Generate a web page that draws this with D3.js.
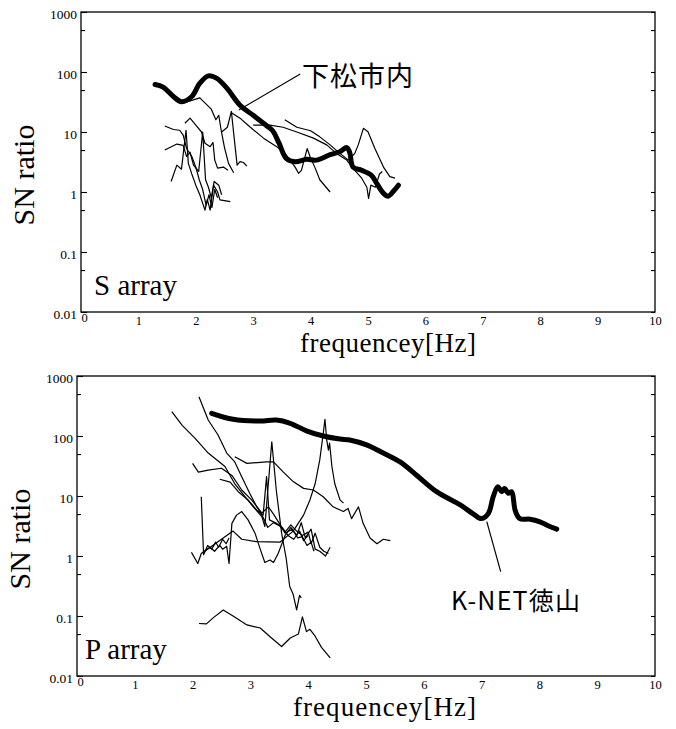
<!DOCTYPE html>
<html>
<head>
<meta charset="utf-8">
<script src="https://cdn.jsdelivr.net/npm/d3@7"></script>
<style>
body { margin: 0; background: #fff; }
svg text { font-family: "Liberation Serif", "Times New Roman", serif; fill: #000; }
svg text.jp { font-family: "Noto Sans CJK JP", sans-serif; }
</style>
</head>
<body>
<script>
"use strict";

// tick labels
var yTicks = [0.01, 0.1, 1, 10, 100, 1000];
var yTickLabels = ["0.01", "0.1", "1", "10", "100", "1000"];
var yMinor = [0.05, 0.5, 5, 50, 500];
var xTicks = [0, 1, 2, 3, 4, 5, 6, 7, 8, 9, 10];

// S array: [frequency Hz, SN ratio]
var sThick = [[1.29,62],[1.43,56],[1.61,39],[1.75,32],[1.93,39],[2.07,65],[2.22,86],[2.36,79],[2.54,54],
  [2.77,28],[3.0,19],[3.24,12.6],[3.34,10.5],[3.45,6.5],[3.58,3.6],[3.73,3.2],[3.93,3.5],[4.1,3.4],
  [4.34,4.2],[4.51,4.7],[4.63,5.5],[4.68,4.6],[4.74,2.6],[4.89,2.3],[5.06,1.9],[5.15,1.4],[5.27,0.95],
  [5.35,0.85],[5.45,1.05],[5.53,1.3]];
var sThin1 = [[1.76,30],[2.07,37],[2.27,24],[2.35,16],[2.4,19],[2.44,11],[2.5,5.5],[2.57,3.0],[2.66,2.1]];
var sThin2 = [[2.45,10],[2.55,12],[2.62,22],[2.66,9.5],[2.72,2.8],[2.77,3.2],[2.83,3.1],[2.89,2.7]];
var sThin3 = [[2.62,21],[2.77,17],[2.94,12.2],[3.18,7.9],[3.41,5.7],[3.58,4.1],[3.73,2.6],[3.79,2.05],
  [3.84,2.3],[3.94,5.3],[3.99,3.9],[4.08,2.5],[4.16,1.6],[4.34,1.0]];
var sThin4 = [[3.0,13],[3.29,13],[3.52,12],[3.76,10],[4.05,7.9],[4.28,6.1],[4.45,4.4],[4.63,3.4],[4.77,2.3],
  [4.89,1.7],[4.98,1.2],[5.01,0.78],[5.05,1.3],[5.13,1.2],[5.2,2.0],[5.25,2.2]];
var sThin5 = [[3.55,16],[3.76,12],[4.0,10.5],[4.16,8.3],[4.34,6.1],[4.51,4.4],[4.66,3.4],[4.77,4.4],[4.83,6.1],
  [4.92,11.5],[5.0,10.1],[5.12,5.3],[5.27,2.6],[5.38,1.8],[5.47,1.7]];
var sThin6 = [[1.46,12.6],[1.61,11],[1.72,10.7],[1.78,8.9],[1.84,5.3],[1.93,3.9],[2.0,2.6],[2.06,1.6],
  [2.12,1.1],[2.18,0.6],[2.23,0.9],[2.28,0.55],[2.33,1.1],[2.38,0.8]];
var sThin7 = [[1.46,5.0],[1.67,6.3],[1.78,6.0],[1.84,3.9],[1.9,4.6],[1.96,2.8],[2.05,2.2],[2.12,10],
  [2.17,1.6],[2.22,1.2],[2.27,0.8],[2.32,1.5],[2.4,1.3],[2.45,0.9]];
var sThin8 = [[1.81,14],[1.9,17],[2.0,13],[2.1,10],[2.16,6.5],[2.25,5.7],[2.3,6.7],[2.33,3.4],[2.38,2.5],
  [2.48,2.6],[2.56,2.3]];
var sThin9 = [[1.57,1.5],[1.67,2.8],[1.75,2.4],[1.83,10.7],[1.87,3.0],[1.93,2.0],[2.0,1.3],[2.07,0.9],
  [2.1,0.74],[2.16,0.5],[2.2,0.75],[2.25,0.5],[2.31,1.3],[2.38,1.0],[2.42,0.74],[2.5,0.72],[2.6,0.69]];

// P array
var pThick = [[2.33,239],[2.7,190],[3.17,178],[3.45,185],[3.69,163],[3.97,122],[4.26,100],[4.55,89],[4.72,86],
  [5.01,71],[5.3,52],[5.59,37],[5.88,22],[6.22,11.8],[6.63,7.1],[6.86,5.0],[7.0,4.2],[7.12,5.2],[7.2,9.7],
  [7.28,14.3],[7.35,11.8],[7.4,13.4],[7.46,11.1],[7.52,11.8],[7.58,5.8],[7.66,4.2],[7.84,4.1],[8.01,3.7],
  [8.15,3.2],[8.3,2.8]];
var pThin1 = [[2.11,450],[2.27,185],[2.44,104],[2.59,52],[2.73,37],[2.85,21],[2.99,11],[3.11,6.6],[3.2,4.8],
  [3.3,3.0],[3.4,3.6],[3.5,3.2],[3.6,2.5],[3.7,3.3],[3.8,2.6],[3.9,2.2],[4.0,2.5],[4.05,1.6],[4.12,2.4],
  [4.2,1.4],[4.27,1.2],[4.35,1.1]];
var pThin2 = [[1.64,254],[1.82,150],[2.04,92],[2.27,52],[2.56,31],[2.73,16],[2.91,9.7],[3.05,6.6],[3.2,4.5],
  [3.25,3.1],[3.37,80],[3.45,12],[3.54,2.4],[3.62,0.9],[3.68,0.31],[3.74,0.23],[3.8,0.126],[3.85,0.22],[3.88,0.2]];
var pThin3 = [[2.0,35],[2.1,25],[2.27,27],[2.5,29],[2.68,22],[2.85,12.6],[3.02,8.6],[3.2,5.2],[3.31,6.6],
  [3.4,5],[3.5,3.5],[3.6,2.4],[3.72,2.8],[3.82,2.0],[3.9,2.1],[3.98,1.5],[4.05,1.7],[4.1,1.2]];
var pThin4 = [[2.47,19],[2.65,17],[2.79,11.8],[2.96,8.6],[3.11,5.8],[3.22,4.8],[3.28,21],[3.33,4.0],[3.45,3.5],
  [3.55,3.0],[3.65,2.2],[3.75,1.9],[3.85,2.6],[3.92,1.8],[4.0,2.2]];
var pThin5 = [[2.73,45],[2.94,35],[3.28,37],[3.4,37],[3.57,25],[3.74,17.4],[3.92,13.4],[4.09,12.6],[4.26,9.7],
  [4.43,6.6],[4.61,5.5],[4.69,6.2],[4.75,4.2],[4.87,6.6],[4.95,3.5],[5.07,2.0],[5.19,1.6],[5.3,1.9],[5.42,1.8]];
var pThin6 = [[2.21,1.2],[2.39,1.6],[2.59,2.2],[2.7,2.6],[2.85,1.9],[3.11,1.73],[3.51,1.7],[3.74,2.6],[3.92,4.8],
  [4.03,8.6],[4.12,16],[4.2,40],[4.26,110],[4.29,190],[4.32,86],[4.35,58],[4.37,76],[4.41,31],[4.46,16],
  [4.55,8.6],[4.61,7.6]];
var pThin7 = [[1.98,1.15],[2.09,0.75],[2.15,1.1],[2.3,1.4],[2.38,1.2],[2.47,1.5],[2.52,1.3],[2.59,1.45],
  [2.63,0.75],[2.68,3.5],[2.76,4.8],[2.85,5.5],[2.96,4.0],[3.08,2.4],[3.17,1.3],[3.25,0.78],[3.34,0.86],
  [3.4,0.78],[3.48,1.1],[3.6,2.2],[3.7,3.0],[3.8,2.2],[3.88,3.6],[3.95,2.0],[4.05,2.8],[4.12,1.3],[4.2,1.2],
  [4.3,1.0],[4.38,1.4]];
var pThin8 = [[2.15,9.7],[2.19,1.05],[2.26,1.5],[2.33,1.3],[2.4,1.7],[2.45,1.4],[2.52,1.9],[2.58,1.6],[2.63,2.0]];
var pThin9 = [[2.11,0.075],[2.24,0.074],[2.36,0.094],[2.53,0.126],[2.7,0.1],[2.94,0.071],[3.17,0.063],
  [3.34,0.045],[3.54,0.031],[3.69,0.043],[3.83,0.05],[3.9,0.097],[3.97,0.055],[4.03,0.06],[4.12,0.046],
  [4.23,0.03],[4.38,0.02]];

var svg = d3.select("body").append("svg")
    .attr("width", 676)
    .attr("height", 729);

function drawPanel(p) {
  var x = d3.scaleLinear().domain([0, 10]).range([p.left, p.right]);
  var y = d3.scaleLog().domain([0.01, 1000]).range([p.bottom, p.top]);
  var g = svg.append("g");

  // frame
  g.append("rect")
      .attr("x", p.left).attr("y", p.top)
      .attr("width", p.right - p.left).attr("height", p.bottom - p.top)
      .attr("fill", "none").attr("stroke", "#000").attr("stroke-width", 1.3);

  // left axis with labels, ticks pointing in
  var yAxis = d3.axisLeft(y).tickValues(yTicks)
      .tickFormat(function(d, i) { return yTickLabels[i]; })
      .tickSizeInner(-6).tickSizeOuter(0).tickPadding(4);
  var gy = g.append("g").attr("transform", "translate(" + p.left + ",0)").call(yAxis);
  gy.select(".domain").remove();
  gy.selectAll("text").attr("font-size", 13.5).attr("font-family", "Liberation Serif").attr("dy", "0.45em");

  var yMinorAxis = d3.axisLeft(y).tickValues(yMinor).tickFormat("").tickSizeInner(-4).tickSizeOuter(0);
  var gym = g.append("g").attr("transform", "translate(" + p.left + ",0)").call(yMinorAxis);
  gym.select(".domain").remove();

  // right axis ticks
  var yRight = d3.axisRight(y).tickValues(yTicks.concat(yMinor)).tickFormat("").tickSizeInner(-4).tickSizeOuter(0);
  var gr = g.append("g").attr("transform", "translate(" + p.right + ",0)").call(yRight);
  gr.select(".domain").remove();

  // bottom labels
  var xAxis = d3.axisBottom(x).tickValues(xTicks).tickFormat(d3.format("d")).tickSize(0).tickPadding(4);
  var gx = g.append("g").attr("transform", "translate(0," + p.bottom + ")").call(xAxis);
  gx.select(".domain").remove();
  gx.selectAll("text").attr("font-size", 12.5).attr("font-family", "Liberation Serif")
      .attr("dy", function(d) { return d === 0 ? "0.5em" : "0.71em"; })
      .attr("dx", function(d) { return d === 0 ? "3" : "0"; });
  g.selectAll(".tick line").attr("stroke", "#000").attr("stroke-width", 1.1);

  var line = d3.line()
      .x(function(d) { return x(d[0]); })
      .y(function(d) { return y(d[1]); });

  g.selectAll(".thin")
      .data(p.thin)
    .enter().append("path")
      .attr("class", "thin")
      .attr("d", line)
      .attr("fill", "none").attr("stroke", "#000").attr("stroke-width", 1.2)
      .attr("stroke-linejoin", "round");

  g.append("path")
      .datum(p.thick)
      .attr("d", line.curve(d3.curveCatmullRom.alpha(0.5)))
      .attr("fill", "none").attr("stroke", "#000").attr("stroke-width", 5)
      .attr("stroke-linecap", "round").attr("stroke-linejoin", "round");

  // leader line and station name
  g.append("line")
      .attr("x1", x(p.leader[0][0])).attr("y1", y(p.leader[0][1]))
      .attr("x2", x(p.leader[1][0])).attr("y2", y(p.leader[1][1]))
      .attr("stroke", "#000").attr("stroke-width", 1.2);
  g.append("text")
      .attr("class", "jp")
      .attr("x", x(p.name[0])).attr("y", y(p.name[1]))
      .attr("dy", "0.36em")
      .attr("font-size", p.nameSize)
      .attr("textLength", p.nameWidth)
      .text(p.nameText);

  // array name
  g.append("text")
      .attr("x", p.left + p.tagDx).attr("y", p.bottom - 17)
      .attr("font-size", 29)
      .text(p.tag);

  // axis titles
  g.append("text")
      .attr("transform", "translate(" + (p.left - 47) + "," + ((p.top + p.bottom) / 2 + 13) + ") rotate(-90)")
      .attr("text-anchor", "middle")
      .attr("font-size", 30)
      .text("SN ratio");
  g.append("text")
      .attr("x", p.titleX).attr("y", p.bottom + 40)
      .attr("font-size", 27)
      .attr("textLength", p.titleWidth)
      .text("frequencey[Hz]");
}

drawPanel({
  left: 81, right: 655, top: 12, bottom: 312,
  thick: sThick,
  thin: [sThin1, sThin2, sThin3, sThin4, sThin5, sThin6, sThin7, sThin8, sThin9],
  leader: [[2.75, 23.3], [3.82, 92.6]],
  name: [3.85, 86], nameText: "下松市内", nameSize: 27, nameWidth: 111,
  tag: "S array", tagDx: 13, titleX: 300, titleWidth: 176
});

drawPanel({
  left: 77, right: 655, top: 376, bottom: 676,
  thick: pThick,
  thin: [pThin1, pThin2, pThin3, pThin4, pThin5, pThin6, pThin7, pThin8, pThin9],
  leader: [[7.09, 3.73], [7.33, 0.55]],
  name: [6.47, 0.178], nameText: "K-NET徳山", nameSize: 25, nameWidth: 129,
  tag: "P array", tagDx: 8, titleX: 293, titleWidth: 183
});
</script>
</body>
</html>
